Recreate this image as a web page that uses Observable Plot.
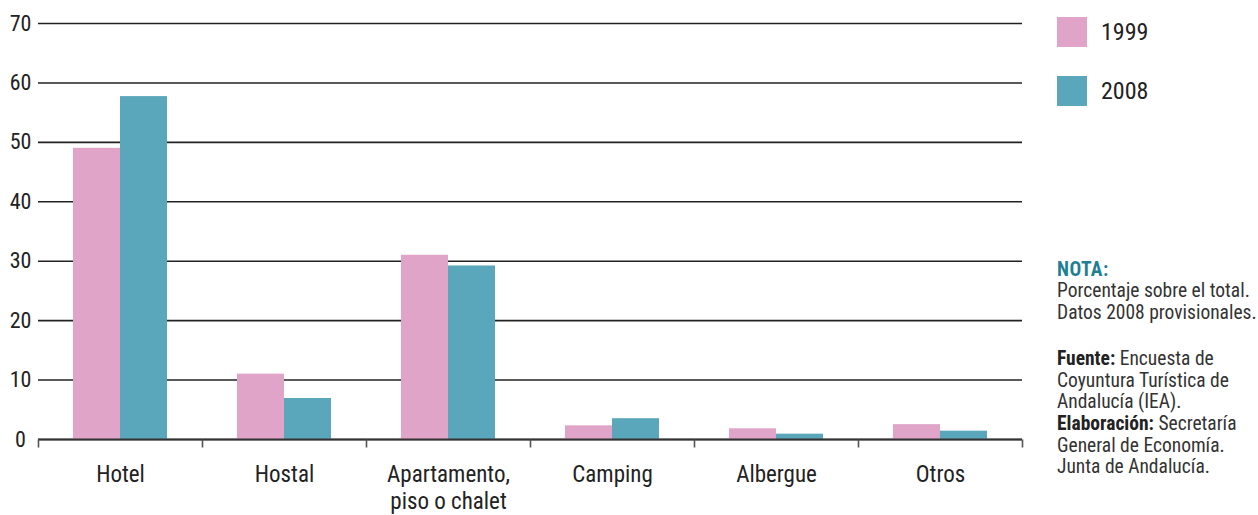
<!DOCTYPE html>
<html><head><meta charset="utf-8">
<script src="https://cdn.jsdelivr.net/npm/d3@7"></script>
<script src="https://cdn.jsdelivr.net/npm/@observablehq/plot@0.6"></script>
<style>
body{margin:0;background:#fff;}
#wrap{position:relative;width:1258px;height:515px;overflow:hidden;}
#legend{position:absolute;left:1057px;top:17px;font-family:"Roboto Condensed",Roboto,sans-serif;font-stretch:condensed;font-size:24px;color:#222;}
.item{display:flex;align-items:center;height:30px;margin-bottom:29px;}
.sw{width:30px;height:30px;margin-right:14px;}
#notes{position:absolute;left:1057px;top:260px;font-family:"Roboto Condensed",Roboto,sans-serif;font-stretch:condensed;font-size:19.5px;color:#333;line-height:21.6px;white-space:nowrap;}
#notes .nota{color:#1f7f95;font-weight:bold;line-height:20px;letter-spacing:0.5px;}
#notes .gap{margin-top:25px;}
#notes b{font-weight:bold;color:#222;}
</style>
</head><body>
<div id="wrap"><div id="chart"></div><div id="legend"></div>
<div id="notes">
<div class="nota">NOTA:</div>
<div>Porcentaje sobre el total.</div>
<div>Datos 2008 provisionales.</div>
<div class="gap"><b>Fuente:</b> Encuesta de</div>
<div>Coyuntura Turística de</div>
<div>Andalucía (IEA).</div>
<div><b>Elaboración:</b> Secretaría</div>
<div>General de Economía.</div>
<div>Junta de Andalucía.</div>
</div></div>
<script>
const categories = ["Hotel", "Hostal", "Apartamento,\npiso o chalet", "Camping", "Albergue", "Otros"];
const years = ["1999", "2008"];
const values1999 = [49.0, 11.0, 31.0, 2.3, 1.8, 2.5];
const values2008 = [57.7, 6.9, 29.2, 3.5, 0.9, 1.4];
const yTicks = [0, 10, 20, 30, 40, 50, 60, 70];
const colors = ["#e0a4c9", "#5aa7bb"];

const rows = categories.flatMap((c, i) => [
  {cat: c, year: years[0], value: values1999[i]},
  {cat: c, year: years[1], value: values2008[i]}
]);

const tickSymbol = {draw(ctx) { ctx.moveTo(0, 0); ctx.lineTo(0, 8); }};
const font = '"Roboto Condensed",Roboto,sans-serif';

const chart = Plot.plot({
  width: 1258,
  height: 515,
  marginLeft: 38,
  marginRight: 236,
  marginTop: 23,
  marginBottom: 76,
  style: {fontFamily: font, fontStretch: "condensed", color: "#222", background: "transparent"},
  fx: {domain: categories, padding: 0, label: null},
  x: {domain: years, paddingInner: 0, paddingOuter: 0.745, round: false, axis: null},
  y: {domain: [0, 70], label: null},
  color: {domain: years, range: colors},
  marks: [
    Plot.ruleY(yTicks, {stroke: "#222", strokeWidth: 1.6}),
    Plot.barY(rows, {fx: "cat", x: "year", y: "value", fill: "year"}),
    Plot.ruleY([0], {stroke: "#333", strokeWidth: 2}),
    Plot.dot(categories, {fx: d => d, frameAnchor: "bottom-left", symbol: tickSymbol, fill: "none", stroke: "#555", strokeWidth: 1.6}),
    Plot.dot(categories.slice(-1), {fx: d => d, frameAnchor: "bottom-right", symbol: tickSymbol, fill: "none", stroke: "#555", strokeWidth: 1.6}),
    Plot.axisY(yTicks, {tickSize: 0, tickPadding: 18, textAnchor: "middle", fontSize: 22, label: null}),
    Plot.axisFx({anchor: "bottom", tickSize: 0, tickPadding: 23, fontSize: 23, lineHeight: 1.17, label: null})
  ]
});
document.getElementById("chart").appendChild(chart);

const legend = d3.select("#legend");
years.forEach((y, i) => {
  const it = legend.append("div").attr("class", "item");
  it.append("div").attr("class", "sw").style("background", colors[i]);
  it.append("span").text(y);
});
</script>
</body></html>
